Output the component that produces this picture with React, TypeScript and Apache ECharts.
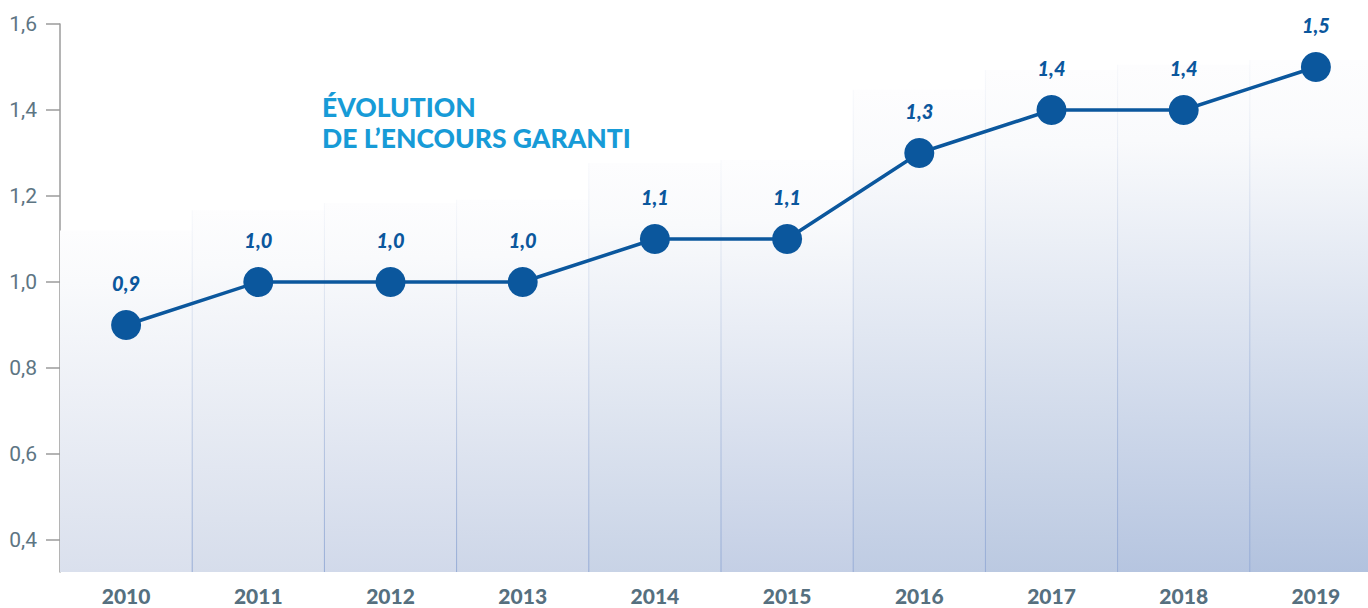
import React, { useEffect, useRef } from "react";
import * as echarts from "echarts";

const years = ["2010", "2011", "2012", "2013", "2014", "2015", "2016", "2017", "2018", "2019"];
const encours = [0.9, 1.0, 1.0, 1.0, 1.1, 1.1, 1.3, 1.4, 1.4, 1.5];
// decorative background columns (top value of each shaded column)
const columnTops = [1.12, 1.167, 1.184, 1.191, 1.277, 1.284, 1.447, 1.493, 1.505, 1.516];
const yTicks = [0.4, 0.6, 0.8, 1.0, 1.2, 1.4, 1.6];
const Y_MIN = 0.3256;
const Y_MAX = 1.6;
const titleText = "ÉVOLUTION\nDE L’ENCOURS GARANTI";

const fmt = (v: number) => v.toFixed(1).replace(".", ",");

function lerpColor(a: number[], b: number[], t: number) {
  const c = a.map((v, k) => Math.round(v + (b[k] - v) * t));
  return `rgb(${c[0]},${c[1]},${c[2]})`;
}

export default function App() {
  const ref = useRef<HTMLDivElement>(null);
  useEffect(() => {
    if (!ref.current) return;
    const chart = echarts.init(ref.current, null, { renderer: "svg" });
    const n = years.length;
    const option: any = {
      animation: false,
      backgroundColor: "#ffffff",
      grid: {
        left: 60,
        width: 1322,
        top: 24,
        bottom: 36,
        containLabel: false,
        outerBoundsMode: "none",
      },
      graphic: [
        {
          type: "text",
          left: 322,
          top: 91,
          z: 10,
          style: {
            text: titleText,
            fill: "#179bd7",
            font: "900 26.5px Lato, 'Noto Sans', sans-serif",
            lineHeight: 31,
          },
        },
      ],
      xAxis: {
        type: "category",
        data: years,
        boundaryGap: true,
        axisLine: { show: false },
        axisTick: { show: false },
        splitLine: { show: false },
        axisLabel: {
          margin: 13,
          color: "#56707f",
          fontFamily: "Lato, sans-serif",
          fontWeight: 900,
          fontSize: 21,
        },
      },
      yAxis: {
        type: "value",
        min: Y_MIN,
        max: Y_MAX,
        splitLine: { show: false },
        axisLine: { show: true, lineStyle: { color: "#9b9b9b", width: 1.5 } },
        axisTick: {
          show: true,
          length: 14,
          customValues: yTicks,
          lineStyle: { color: "#9b9b9b", width: 1.5 },
        },
        axisLabel: {
          margin: 23,
          customValues: yTicks,
          color: "#5d7583",
          fontFamily: "Roboto, sans-serif",
          fontSize: 21,
          formatter: (v: number) => fmt(v),
        },
      },
      series: [
        {
          type: "custom",
          z: 1,
          silent: true,
          data: columnTops.map((v, i) => [i, v]),
          encode: { x: 0, y: 1 },
          clip: true,
          renderItem: (params: any, api: any) => {
            const i = api.value(0);
            const top = api.value(1);
            const p1 = api.coord([i, top]);
            const p0 = api.coord([i, Y_MIN]);
            const w = api.size([1, 0])[0];
            const x = p1[0] - w / 2;
            const t = i / (n - 1);
            const bottom = lerpColor([218, 224, 237], [178, 194, 222], t);
            const children: any[] = [
              {
                type: "rect",
                shape: { x, y: p1[1], width: w + 0.5, height: p0[1] - p1[1] },
                style: {
                  fill: new echarts.graphic.LinearGradient(0, 0, 0, 1, [
                    { offset: 0, color: "#fdfdfe" },
                    { offset: 0.15, color: "#f9fafc" },
                    { offset: 1, color: bottom },
                  ]),
                },
              },
            ];
            if (i > 0) {
              children.push({
                type: "rect",
                shape: { x: x - 0.5, y: p1[1], width: 1, height: p0[1] - p1[1] },
                style: {
                  fill: new echarts.graphic.LinearGradient(0, 0, 0, 1, [
                    { offset: 0, color: "rgba(168,186,218,0.08)" },
                    { offset: 1, color: "rgba(150,172,214,1)" },
                  ]),
                },
              });
            }
            return { type: "group", children };
          },
        },
        {
          type: "line",
          z: 5,
          data: encours,
          symbol: "circle",
          symbolSize: 30,
          itemStyle: { color: "#0b579d" },
          lineStyle: { color: "#0b579d", width: 3.5 },
          label: {
            show: true,
            position: "top",
            distance: 17,
            color: "#0b579d",
            fontFamily: "Lato, sans-serif",
            fontStyle: "italic",
            fontWeight: 900,
            fontSize: 20,
            formatter: (p: any) => fmt(p.value),
          },
        },
      ],
    };
    chart.setOption(option);
    return () => chart.dispose();
  }, []);
  return (
    <div
      ref={ref}
      style={{ position: "fixed", left: 0, top: 0, width: 1368, height: 608 }}
    />
  );
}
